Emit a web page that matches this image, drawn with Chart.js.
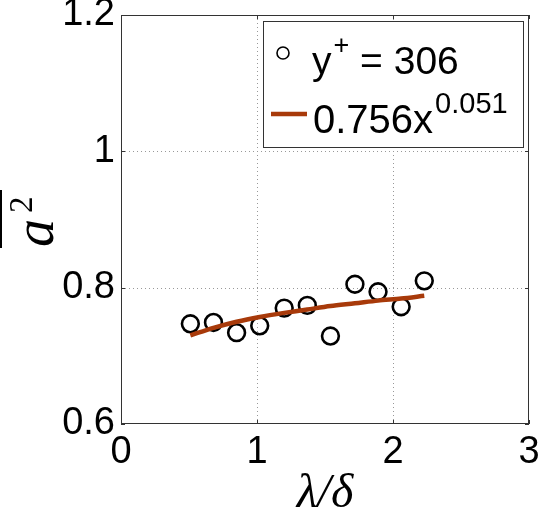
<!DOCTYPE html>
<html lang="en">
<head>
    <meta charset="UTF-8">
    <title>a2 vs lambda/delta</title>
    <script src="https://cdn.jsdelivr.net/npm/chart.js"></script>
    <style>
        body { margin: 0; background: #ffffff; }
        canvas { display: block; }
    </style>
</head>
<body>
    <canvas id="a2Chart" width="540" height="518"></canvas>
    <script>
        // values
        const lambdaDelta = [0.51, 0.68, 0.85, 1.02, 1.20, 1.37, 1.54, 1.72, 1.89, 2.06, 2.23];
        const a2Measured = [0.747, 0.749, 0.734, 0.744, 0.770, 0.774, 0.729, 0.805, 0.794, 0.772, 0.810];
        const a2Fit = [0.730, 0.741, 0.750, 0.757, 0.763, 0.768, 0.773, 0.777, 0.781, 0.784, 0.788];
        const xTicks = [0, 1, 2, 3];
        const yTicks = [0.6, 0.8, 1, 1.2];
        const seriesLabel = 'y+ = 306';
        const fitLabel = '0.756x^0.051';

        const fitColor = '#a83a0a';
        const sans = '"Liberation Sans", Arial, sans-serif';
        const serif = '"Liberation Serif", "Times New Roman", serif';

        // dotted grid like the matlab one
        const dottedGrid = {
            id: 'dottedGrid',
            beforeDatasetsDraw(chart) {
                const ctx = chart.ctx;
                const a = chart.chartArea;
                ctx.save();
                ctx.strokeStyle = '#999';
                ctx.lineWidth = 1;
                ctx.setLineDash([1, 3]);
                ctx.beginPath();
                xTicks.slice(1, -1).forEach(v => {
                    const px = Math.round(chart.scales.x.getPixelForValue(v)) + 0.5;
                    ctx.moveTo(px, a.top); ctx.lineTo(px, a.bottom);
                });
                yTicks.slice(1, -1).forEach(v => {
                    const py = Math.round(chart.scales.y.getPixelForValue(v)) + 0.5;
                    ctx.moveTo(a.left, py); ctx.lineTo(a.right, py);
                });
                ctx.stroke();
                ctx.restore();
            }
        };

        // frame, inward ticks, legend box and the y label
        const extras = {
            id: 'extras',
            afterDraw(chart) {
                const ctx = chart.ctx;
                const a = chart.chartArea;
                const xs = chart.scales.x, ys = chart.scales.y;
                ctx.save();
                ctx.strokeStyle = '#333';
                ctx.lineWidth = 1;
                ctx.strokeRect(a.left + 0.5, a.top + 0.5, a.right - a.left - 1, a.bottom - a.top - 1);
                ctx.beginPath();
                xTicks.forEach(v => {
                    const px = Math.round(xs.getPixelForValue(v)) + 0.5;
                    ctx.moveTo(px, a.bottom); ctx.lineTo(px, a.bottom - 4);
                    ctx.moveTo(px, a.top); ctx.lineTo(px, a.top + 4);
                });
                yTicks.forEach(v => {
                    const py = Math.round(ys.getPixelForValue(v)) + 0.5;
                    ctx.moveTo(a.left, py); ctx.lineTo(a.left + 4, py);
                    ctx.moveTo(a.right, py); ctx.lineTo(a.right - 4, py);
                });
                ctx.stroke();

                // legend
                ctx.fillStyle = '#fff';
                ctx.fillRect(263, 21, 260, 126);
                ctx.strokeStyle = '#333';
                ctx.strokeRect(263.5, 21.5, 260, 126);
                ctx.fillStyle = '#000';
                ctx.strokeStyle = '#000';
                ctx.lineWidth = 1.6;
                ctx.beginPath();
                ctx.arc(283, 53, 6, 0, Math.PI * 2);
                ctx.stroke();
                const [base1, sup1] = seriesLabel.split('+');
                ctx.textBaseline = 'alphabetic';
                ctx.textAlign = 'left';
                let x = 312;
                ctx.font = '39px ' + sans;
                ctx.fillText(base1, x, 74);
                x += ctx.measureText(base1).width;
                ctx.font = '27px ' + sans;
                ctx.fillText('+', x + 2, 54);
                x += ctx.measureText('+').width + 2;
                ctx.font = '39px ' + sans;
                ctx.fillText(sup1, x, 74);

                ctx.strokeStyle = fitColor;
                ctx.lineWidth = 4.5;
                ctx.beginPath();
                ctx.moveTo(271, 114); ctx.lineTo(307, 114);
                ctx.stroke();
                const [base2, sup2] = fitLabel.split('^');
                ctx.font = '40px ' + sans;
                ctx.fillText(base2, 313, 133);
                const w2 = ctx.measureText(base2).width;
                ctx.font = '29px ' + sans;
                ctx.fillText(sup2, 313 + w2 + 2, 113);

                // y label: overline a squared
                ctx.translate(53, 247);
                ctx.rotate(-Math.PI / 2);
                ctx.font = 'italic 56px ' + serif;
                ctx.fillText('a', 0, 0);
                ctx.font = '33px ' + serif;
                ctx.fillText('2', 34, -21);
                ctx.fillRect(-1, -53, 58, 2);
                ctx.restore();
            }
        };

        const ctx = document.getElementById('a2Chart').getContext('2d');
        new Chart(ctx, {
            type: 'scatter',
            data: {
                datasets: [
                    {
                        label: fitLabel,
                        data: lambdaDelta.map((x, i) => ({ x: x, y: a2Fit[i] })),
                        showLine: true,
                        borderColor: fitColor,
                        borderWidth: 4.5,
                        pointRadius: 0,
                        tension: 0.3,
                        order: 0
                    },
                    {
                        label: seriesLabel,
                        data: lambdaDelta.map((x, i) => ({ x: x, y: a2Measured[i] })),
                        pointStyle: 'circle',
                        pointRadius: 8.4,
                        pointBorderWidth: 2.6,
                        borderColor: '#000',
                        backgroundColor: 'rgba(0,0,0,0)',
                        order: 1
                    }
                ]
            },
            options: {
                responsive: false,
                animation: false,
                events: [],
                layout: { padding: { left: 0, right: 11, top: 15, bottom: 0 } },
                plugins: { legend: { display: false }, tooltip: { enabled: false } },
                scales: {
                    x: {
                        type: 'linear',
                        min: 0,
                        max: 3,
                        afterFit: s => { s.height = 94; s.paddingLeft = 0; s.paddingRight = 0; },
                        afterBuildTicks: s => { s.ticks = xTicks.map(v => ({ value: v })); },
                        ticks: {
                            font: { family: sans, size: 38 },
                            color: '#000',
                            padding: 6,
                            maxRotation: 0,
                            callback: v => String(v)
                        },
                        grid: { display: false, drawTicks: false },
                        border: { display: false },
                        title: {
                            display: true,
                            text: 'λ/δ',
                            color: '#000',
                            font: { family: serif, size: 48, style: 'italic', lineHeight: 1 },
                            padding: 0
                        }
                    },
                    y: {
                        min: 0.6,
                        max: 1.2,
                        afterFit: s => { s.width = 121; s.paddingTop = 0; s.paddingBottom = 0; },
                        afterBuildTicks: s => { s.ticks = yTicks.map(v => ({ value: v })); },
                        ticks: {
                            font: { family: sans, size: 38 },
                            color: '#000',
                            padding: 6,
                            callback: v => String(+v.toFixed(1))
                        },
                        grid: { display: false, drawTicks: false },
                        border: { display: false }
                    }
                }
            },
            plugins: [dottedGrid, extras]
        });
    </script>
</body>
</html>
